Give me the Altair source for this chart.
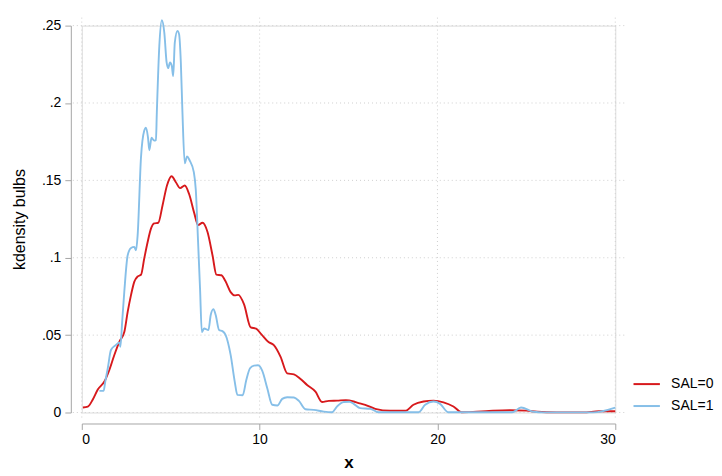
import altair as alt
import pandas as pd

# ---- data ----
sal0_x = [0.06, 0.34, 0.62, 0.90, 1.27, 1.55, 1.83, 2.11, 2.39, 2.58, 2.77, 2.95, 3.15, 3.33,
          3.51, 3.70, 3.89, 4.07, 4.30, 4.54, 4.79, 5.05, 5.29, 5.53, 5.79, 6.04, 6.32, 6.54,
          6.79, 7.07, 7.35, 7.57, 7.85, 8.09, 8.37, 8.60, 8.80, 9.12, 9.50, 9.80, 10.10, 10.50,
          10.80, 11.18, 11.55, 11.93, 12.30, 12.67, 13.14, 13.51, 13.89, 14.36, 14.85, 15.29,
          15.48, 15.94, 16.50, 17.34, 18.19, 18.65, 19.22, 19.78, 20.34, 20.90, 21.36, 22.00,
          22.90, 24.06, 25.00, 25.60, 26.70, 28.20, 29.10, 30.00]
sal0_y = [0.0032, 0.0038, 0.0084, 0.0148, 0.0200, 0.0275, 0.0372, 0.0457, 0.0520, 0.0650,
          0.0760, 0.0844, 0.0880, 0.0890, 0.0994, 0.1100, 0.1188, 0.1222, 0.1226, 0.1338,
          0.1467, 0.1527, 0.1488, 0.1450, 0.1467, 0.1410, 0.1290, 0.1212, 0.1226, 0.1166,
          0.1016, 0.0891, 0.0887, 0.0846, 0.0778, 0.0757, 0.0760, 0.0700, 0.0550, 0.0542,
          0.0505, 0.0455, 0.0436, 0.0360, 0.0253, 0.0247, 0.0217, 0.0178, 0.0135, 0.0068,
          0.0075, 0.0077, 0.0080, 0.0071, 0.0064, 0.0050, 0.0024, 0.0011, 0.0011, 0.0050,
          0.0071, 0.0077, 0.0066, 0.0039, 0.0002, 0.0004, 0.0010, 0.0015, 0.0012, 0.0005,
          0.0001, 0.0001, 0.0008, 0.0008]

sal1_x = [0.99, 1.23, 1.32, 1.46, 1.64, 1.92, 2.11, 2.17, 2.27, 2.39, 2.58, 2.77, 2.95, 3.05,
          3.14, 3.33, 3.51, 3.61, 3.72, 3.80, 3.92, 4.07, 4.17, 4.22, 4.36, 4.50, 4.64, 4.77,
          4.86, 4.96, 5.06, 5.14, 5.23, 5.38, 5.47, 5.57, 5.66, 5.79, 5.92, 6.06, 6.30, 6.41,
          6.54, 6.65, 6.75, 6.88, 7.12, 7.25, 7.40, 7.53, 7.72, 7.91, 8.09, 8.37, 8.60, 8.75,
          9.05, 9.25, 9.46, 9.68, 9.91, 10.15, 10.43, 10.71, 11.00, 11.27, 11.55, 11.93, 12.21,
          12.58, 13.05, 13.61, 14.07, 14.36, 14.73, 15.05, 15.29, 15.66, 16.22, 16.69, 18.94,
          19.31, 19.78, 20.15, 20.60, 24.20, 24.70, 25.40, 26.00, 28.75, 30.00]
sal1_y = [0.0140, 0.0140, 0.0200, 0.0285, 0.0404, 0.0436, 0.0453, 0.0425, 0.0586, 0.0780,
          0.1016, 0.1063, 0.1070, 0.1048, 0.1145, 0.1650, 0.1820, 0.1840, 0.1780, 0.1695,
          0.1775, 0.1757, 0.1760, 0.1940, 0.2370, 0.2535, 0.2455, 0.2262, 0.2225, 0.2262,
          0.2240, 0.2174, 0.2390, 0.2466, 0.2445, 0.2262, 0.1940, 0.1610, 0.1655, 0.1630,
          0.1553, 0.1440, 0.1100, 0.0800, 0.0520, 0.0543, 0.0533, 0.0630, 0.0668, 0.0630,
          0.0533, 0.0526, 0.0500, 0.0372, 0.0200, 0.0114, 0.0112, 0.0210, 0.0286, 0.0303,
          0.0305, 0.0269, 0.0157, 0.0050, 0.0045, 0.0088, 0.0099, 0.0097, 0.0075, 0.0021,
          0.0017, 0.0006, 0.0002, 0.0040, 0.0068, 0.0070, 0.0056, 0.0028, 0.0024, 0.0002,
          0.0002, 0.0050, 0.0071, 0.0056, 0.0002, 0.0002, 0.0032, 0.0005, 0.0001, 0.0001,
          0.0032]

series_names = ["SAL=0", "SAL=1"]
series_colors = ["#D7191C", "#86BFE8"]
x_ticks = [0, 10, 20, 30]
y_ticks = [0, 0.05, 0.10, 0.15, 0.20, 0.25]

df = pd.concat([
    pd.DataFrame({"x": sal0_x, "y": sal0_y, "series": series_names[0]}),
    pd.DataFrame({"x": sal1_x, "y": sal1_y, "series": series_names[1]}),
], ignore_index=True)

W, H = 535, 388
FONT = "Liberation Sans"
AXIS_GREY = "#a6a6a6"
GRID_GREY = "#cfcfcf"

xscale = alt.Scale(domain=[0, 30], nice=False, zero=False)
yscale = alt.Scale(domain=[0, 0.25], nice=False)

xaxis = alt.Axis(values=x_ticks, format="d", offset=11, grid=False,
                 domainColor=AXIS_GREY, tickColor=AXIS_GREY, tickSize=6,
                 labelFont=FONT, labelFontSize=14, labelColor="black",
                 labelPadding=3, titleFont=FONT, titleFontSize=17,
                 titleFontWeight="bold", titleColor="black", titlePadding=8)
yaxis = alt.Axis(values=y_ticks, offset=11, grid=False,
                 labelExpr="datum.value == 0 ? '0' : substring(format(datum.value, '.2~f'), 1)",
                 domainColor=AXIS_GREY, tickColor=AXIS_GREY, tickSize=6,
                 labelFont=FONT, labelFontSize=14, labelColor="black",
                 labelPadding=4, titleFont=FONT, titleFontSize=16,
                 titleFontWeight="normal", titleColor="black", titlePadding=14)

vgrid = alt.Chart(pd.DataFrame({"gx": x_ticks})).mark_rule(
    color=GRID_GREY, strokeDash=[1, 3], strokeWidth=1
).encode(
    x=alt.X("gx:Q", scale=xscale, axis=xaxis, title="x"),
    y=alt.value(-8),
    y2=alt.value(H + 5),
)

hgrid = alt.Chart(pd.DataFrame({"gy": y_ticks})).mark_rule(
    color=GRID_GREY, strokeDash=[1, 3], strokeWidth=1
).encode(
    y=alt.Y("gy:Q", scale=yscale, axis=yaxis, title="kdensity bulbs"),
    x=alt.value(-9),
    x2=alt.value(W + 9),
)

lines = alt.Chart(df).mark_line(strokeWidth=1.9, interpolate="monotone").encode(
    x=alt.X("x:Q", scale=xscale, axis=xaxis, title="x"),
    y=alt.Y("y:Q", scale=yscale, axis=yaxis, title="kdensity bulbs"),
    color=alt.Color("series:N", scale=alt.Scale(domain=series_names, range=series_colors),
                    legend=alt.Legend(title=None, orient="none", legendX=552, legendY=345,
                                      symbolType="stroke", symbolStrokeWidth=2,
                                      symbolSize=700, labelFont=FONT, labelFontSize=14,
                                      labelColor="black", labelOffset=10, rowPadding=-7)),
)

chart = alt.layer(vgrid, hgrid, lines).properties(
    width=W, height=H,
    padding={"left": 3, "top": 7, "right": 0, "bottom": 5},
).configure_view(stroke=None).configure(background="white")

chart.save("out.html", embed_options={"renderer": "svg", "actions": False})
